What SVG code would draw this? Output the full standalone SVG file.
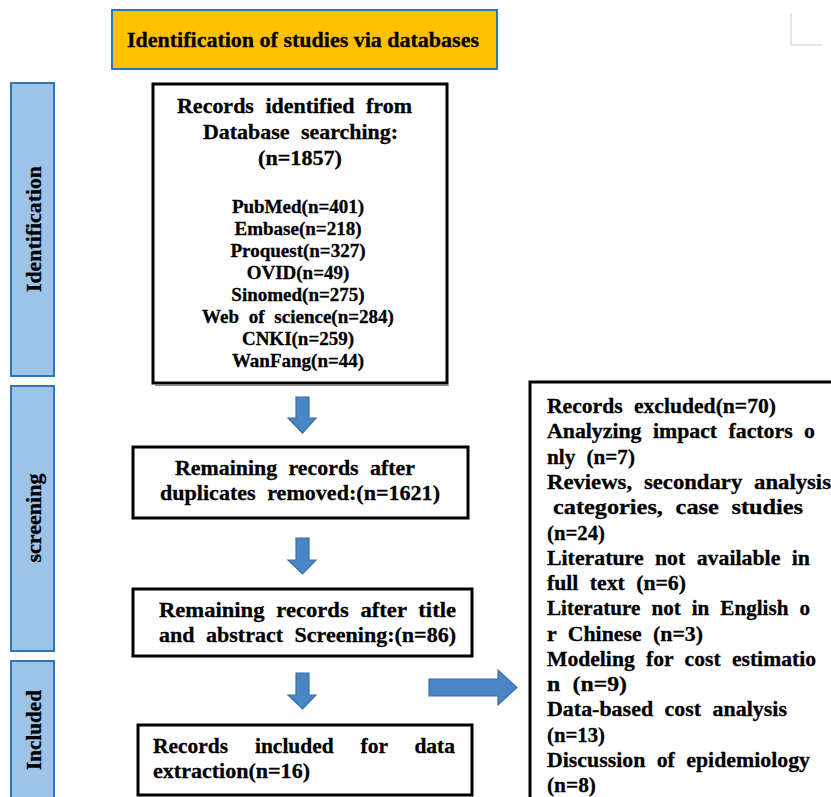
<svg xmlns="http://www.w3.org/2000/svg" width="831" height="797" viewBox="0 0 831 797">
<style>
.t{font-family:"Liberation Serif","Times New Roman",serif;font-weight:bold;fill:#000;stroke:#000;stroke-width:0.3}
.w{word-spacing:6px}
.side{fill:#9DC3E6;stroke:#2E75B6;stroke-width:2}
.box{fill:#fff;stroke:#000;stroke-width:3}
.arr{fill:#4A86C5;stroke:#3A6FA8;stroke-width:1.2}
</style>
<rect width="831" height="797" fill="#fff"/>
<g id="corner"><path d="M791 13V45H823" fill="none" stroke="#ddd" stroke-width="1.5"/></g>
<g id="title">
<rect x="112" y="10" width="385" height="59" fill="#FFC000" stroke="#2E75B6" stroke-width="2"/>
<text class="t" x="127" y="47" font-size="22" textLength="352" lengthAdjust="spacingAndGlyphs">Identification of studies via databases</text>
</g>
<g id="side-identification">
<rect class="side" x="11" y="83" width="43" height="293"/>
<text class="t" font-size="22" transform="translate(41,229) rotate(-90)" text-anchor="middle" textLength="126" lengthAdjust="spacingAndGlyphs">Identification</text>
</g>
<g id="side-screening">
<rect class="side" x="11" y="386" width="43" height="265"/>
<text class="t" font-size="22" transform="translate(41,518) rotate(-90)" text-anchor="middle" textLength="89" lengthAdjust="spacingAndGlyphs">screening</text>
</g>
<g id="side-included">
<rect class="side" x="11" y="661" width="43" height="145"/>
<text class="t" font-size="22" transform="translate(41,730) rotate(-90)" text-anchor="middle" textLength="80" lengthAdjust="spacingAndGlyphs">Included</text>
</g>
<g id="records-identified">
<rect class="box" x="153" y="84" width="294" height="299"/>
<line x1="155" y1="385.5" x2="449" y2="385.5" stroke="#888" stroke-width="1"/>
<g class="t w" font-size="22">
<text x="177" y="113" textLength="235" lengthAdjust="spacingAndGlyphs">Records identified from</text>
<text x="203" y="139" textLength="195" lengthAdjust="spacingAndGlyphs">Database searching:</text>
<text x="258" y="165" textLength="84" lengthAdjust="spacingAndGlyphs">(n=1857)</text>
</g>
<g class="t" font-size="19" text-anchor="middle">
<text x="298" y="213">PubMed(n=401)</text>
<text x="298" y="235">Embase(n=218)</text>
<text x="298" y="257">Proquest(n=327)</text>
<text x="298" y="279">OVID(n=49)</text>
<text x="298" y="301">Sinomed(n=275)</text>
<text x="298" y="323" word-spacing="5">Web of science(n=284)</text>
<text x="298" y="345">CNKI(n=259)</text>
<text x="298" y="367">WanFang(n=44)</text>
</g>
</g>
<g id="remaining-duplicates">
<rect class="box" x="133" y="447" width="335" height="71"/>
<g class="t w" font-size="22">
<text x="175" y="475" textLength="240" lengthAdjust="spacingAndGlyphs">Remaining records after</text>
<text x="160" y="500" textLength="280" lengthAdjust="spacingAndGlyphs">duplicates removed:(n=1621)</text>
</g>
</g>
<g id="remaining-screening">
<rect class="box" x="133" y="589" width="339" height="67"/>
<g class="t w" font-size="22">
<text x="159" y="617" textLength="297" lengthAdjust="spacingAndGlyphs">Remaining records after title</text>
<text x="159" y="642" textLength="297" lengthAdjust="spacingAndGlyphs">and abstract Screening:(n=86)</text>
</g>
</g>
<g id="included">
<rect class="box" x="138" y="725" width="334" height="70"/>
<g class="t" font-size="22">
<text x="153" y="753" word-spacing="22" textLength="302" lengthAdjust="spacingAndGlyphs">Records included for data</text>
<text x="153" y="778" textLength="157" lengthAdjust="spacingAndGlyphs">extraction(n=16)</text>
</g>
</g>
<g id="excluded">
<rect class="box" x="530" y="382" width="320" height="430"/>
<g class="t w" font-size="22">
<text x="547" y="413" textLength="229" lengthAdjust="spacingAndGlyphs">Records excluded(n=70)</text>
<text x="547" y="438" textLength="268" lengthAdjust="spacingAndGlyphs">Analyzing impact factors o</text>
<text x="547" y="464" textLength="88" lengthAdjust="spacingAndGlyphs">nly (n=7)</text>
<text x="547" y="489" textLength="284" lengthAdjust="spacingAndGlyphs">Reviews, secondary analysis</text>
<text x="553" y="514" textLength="250" lengthAdjust="spacingAndGlyphs">categories, case studies</text>
<text x="547" y="540" textLength="58" lengthAdjust="spacingAndGlyphs">(n=24)</text>
<text x="547" y="565" textLength="263" lengthAdjust="spacingAndGlyphs">Literature not available in</text>
<text x="547" y="590" textLength="139" lengthAdjust="spacingAndGlyphs">full text (n=6)</text>
<text x="547" y="615" textLength="263" lengthAdjust="spacingAndGlyphs">Literature not in English o</text>
<text x="547" y="641" textLength="156" lengthAdjust="spacingAndGlyphs">r Chinese (n=3)</text>
<text x="547" y="666" textLength="269" lengthAdjust="spacingAndGlyphs">Modeling for cost estimatio</text>
<text x="547" y="691" textLength="80" lengthAdjust="spacingAndGlyphs">n (n=9)</text>
<text x="547" y="716" textLength="240" lengthAdjust="spacingAndGlyphs">Data-based cost analysis</text>
<text x="547" y="742" textLength="58" lengthAdjust="spacingAndGlyphs">(n=13)</text>
<text x="547" y="767" textLength="263" lengthAdjust="spacingAndGlyphs">Discussion of epidemiology</text>
<text x="547" y="792" textLength="49" lengthAdjust="spacingAndGlyphs">(n=8)</text>
</g>
</g>
<g id="connectors">
<path class="arr" d="M296 397H309V418H316L302.5 433L288 418H296Z"/>
<path class="arr" d="M296 538H309V560H316L302.5 574L288 560H296Z"/>
<path class="arr" d="M296 673H309V695H316L302.5 709L288 695H296Z"/>
<path class="arr" d="M429 679H498V670L517 687.5L498 705V696H429Z"/>
</g>
</svg>
